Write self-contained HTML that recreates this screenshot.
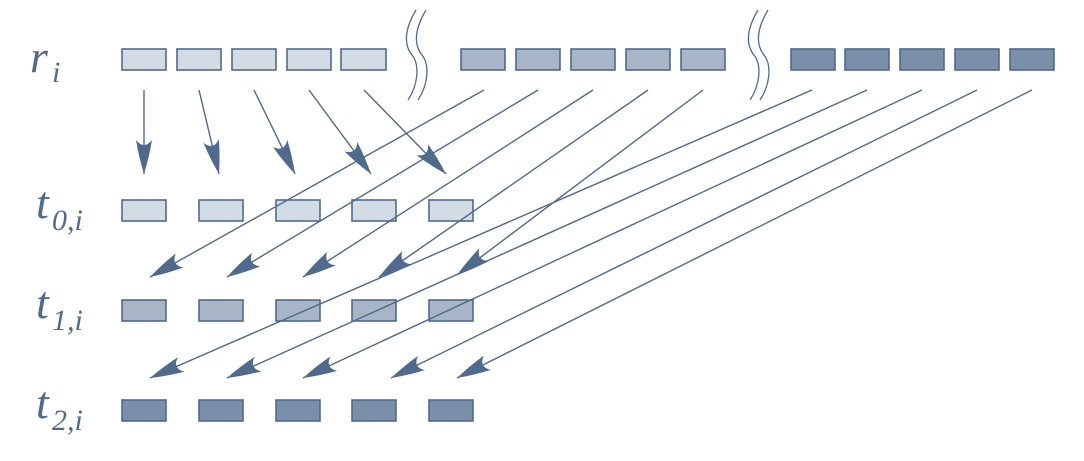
<!DOCTYPE html>
<html><head><style>html,body{margin:0;padding:0;background:#fff;}</style></head>
<body>
<svg width="1084" height="456" viewBox="0 0 1084 456" xmlns="http://www.w3.org/2000/svg">
<defs>
<marker id="a" markerUnits="userSpaceOnUse" markerWidth="44" markerHeight="24" refX="36" refY="12" orient="auto" viewBox="0 0 44 24">
<path d="M36,12 Q20,7 2,4 Q12,12 2,20 Q20,17 36,12 Z" fill="#4f6a8c"/>
</marker>
</defs>
<g font-family="Liberation Serif, serif" font-style="italic" fill="#4f6a8c">
<text x="30" y="72" font-size="46">r</text><text x="52" y="82" font-size="30">i</text>
<text x="36" y="218" font-size="46">t</text><text x="52" y="230" font-size="30">0,i</text>
<text x="36" y="318" font-size="46">t</text><text x="52" y="330" font-size="30">1,i</text>
<text x="36" y="418" font-size="46">t</text><text x="52" y="430" font-size="30">2,i</text>
</g>
<g stroke="#4f6a8c" stroke-width="1.6">
<g fill="#d3dbe5">
<rect x="122" y="49" width="44" height="21"/><rect x="177" y="49" width="44" height="21"/><rect x="232" y="49" width="44" height="21"/><rect x="287" y="49" width="44" height="21"/><rect x="341" y="49" width="45" height="21"/>
<rect x="122" y="200" width="44" height="21"/><rect x="199" y="200" width="44" height="21"/><rect x="276" y="200" width="44" height="21"/><rect x="352" y="200" width="44" height="21"/><rect x="429" y="200" width="44" height="21"/>
</g>
<g fill="#a8b5c7">
<rect x="461" y="49" width="44" height="21"/><rect x="516" y="49" width="44" height="21"/><rect x="571" y="49" width="44" height="21"/><rect x="626" y="49" width="44" height="21"/><rect x="681" y="49" width="44" height="21"/>
<rect x="122" y="300" width="44" height="21"/><rect x="199" y="300" width="44" height="21"/><rect x="276" y="300" width="44" height="21"/><rect x="352" y="300" width="44" height="21"/><rect x="429" y="300" width="44" height="21"/>
</g>
<g fill="#7a90a9">
<rect x="791" y="49" width="44" height="21"/><rect x="845" y="49" width="44" height="21"/><rect x="900" y="49" width="44" height="21"/><rect x="955" y="49" width="44" height="21"/><rect x="1010" y="49" width="44" height="21"/>
<rect x="122" y="400" width="44" height="21"/><rect x="199" y="400" width="44" height="21"/><rect x="276" y="400" width="44" height="21"/><rect x="352" y="400" width="44" height="21"/><rect x="429" y="400" width="44" height="21"/>
</g>
</g>
<g fill="none" stroke="#4f6a8c" stroke-width="1.3">
<path d="M416,10 C404,30 404,45 412,55 C420,65 418,85 408,100"/>
<path d="M426,10 C414,30 414,45 422,55 C430,65 428,85 418,100"/>
<path d="M758,10 C746,30 746,45 754,55 C762,65 760,85 750,100"/>
<path d="M768,10 C756,30 756,45 764,55 C772,65 770,85 760,100"/>
</g>
<g stroke="#4f6a8c" stroke-width="1.4" marker-end="url(#a)">
<line x1="144" y1="90" x2="144" y2="174"/>
<line x1="199" y1="90" x2="219" y2="174"/>
<line x1="254" y1="90" x2="295" y2="174"/>
<line x1="309" y1="90" x2="371" y2="174"/>
<line x1="364" y1="90" x2="446" y2="174"/>
<line x1="484" y1="90" x2="150" y2="277"/>
<line x1="538" y1="90" x2="227" y2="277"/>
<line x1="593" y1="90" x2="303" y2="277"/>
<line x1="648" y1="90" x2="379" y2="277"/>
<line x1="703" y1="90" x2="457" y2="275"/>
<line x1="812" y1="90" x2="150" y2="378"/>
<line x1="867" y1="90" x2="227" y2="378"/>
<line x1="922" y1="90" x2="303" y2="378"/>
<line x1="977" y1="90" x2="391" y2="378"/>
<line x1="1032" y1="90" x2="457" y2="378"/>
</g>
</svg>
</body></html>
